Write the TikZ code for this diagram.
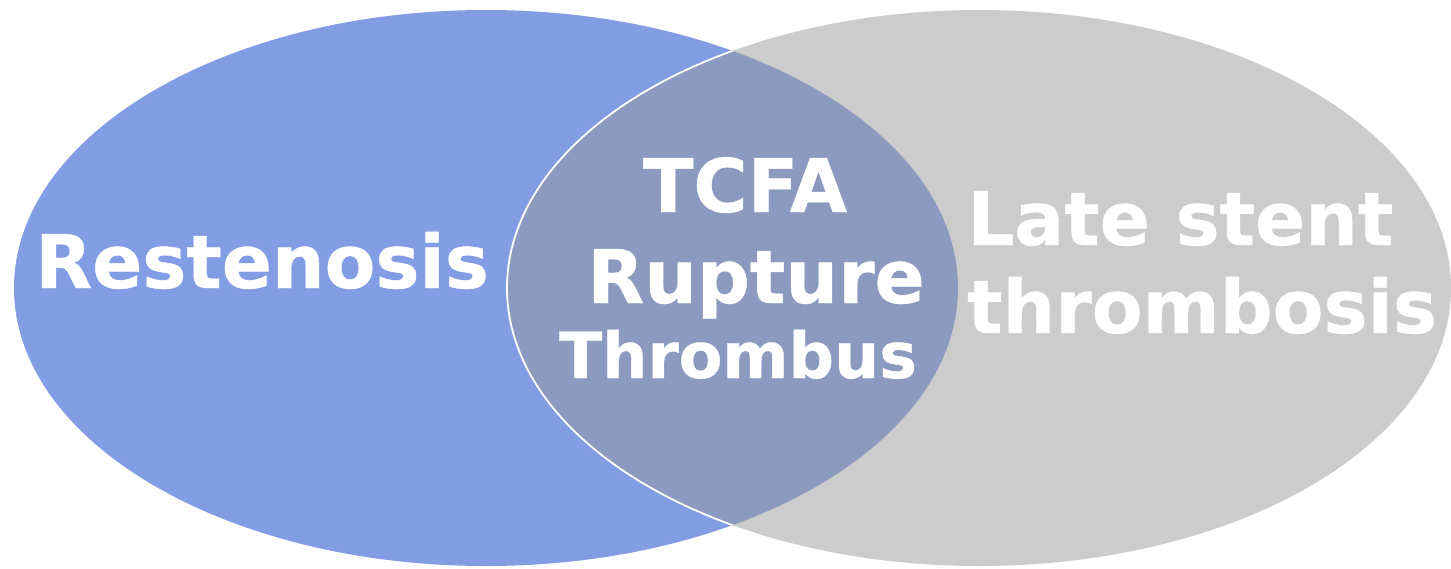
\documentclass[tikz,border=0pt]{standalone}
\usepackage{fontspec}
\setmainfont{DejaVu Sans}[BoldFeatures={FakeBold=0.6}]
\definecolor{venblue}{HTML}{839DE5}
\definecolor{vengray}{HTML}{CCCCCC}
\definecolor{venmix}{HTML}{8B9ABE}
\begin{document}
\begin{tikzpicture}[x=1pt,y=-1pt,
  lbl/.style={text=white,font=\bfseries\fontsize{74}{80}\selectfont,inner sep=0pt},
  lblsmall/.style={text=white,font=\bfseries\fontsize{63.5}{70}\selectfont,inner sep=0pt}]
\useasboundingbox (0,0) rectangle (1451,568);
\fill[venblue] (486,288) ellipse [x radius=472, y radius=278];
\fill[vengray] (979,288) ellipse [x radius=472, y radius=278];
\begin{scope}
  \clip (486,288) ellipse [x radius=472, y radius=278];
  \fill[venmix] (979,288) ellipse [x radius=472, y radius=278];
  \draw[white,line width=1.8pt] (979,288) ellipse [x radius=472, y radius=278];
\end{scope}
\node[lbl,anchor=base west] (rest) at (35,288) {Restenosis};
\node[lbl,anchor=base] (tcfa) at (745,212) {TCFA};
\node[lbl,anchor=base] (rupt) at (756,303) {Rupture};
\node[lblsmall,anchor=base] (thro) at (738,378) {Thrombus};
\node[lbl,anchor=base west] (late) at (967,245) {Late stent};
\node[lbl,anchor=base west] (thrs) at (967,333) {thrombosis};
\end{tikzpicture}
\end{document}
